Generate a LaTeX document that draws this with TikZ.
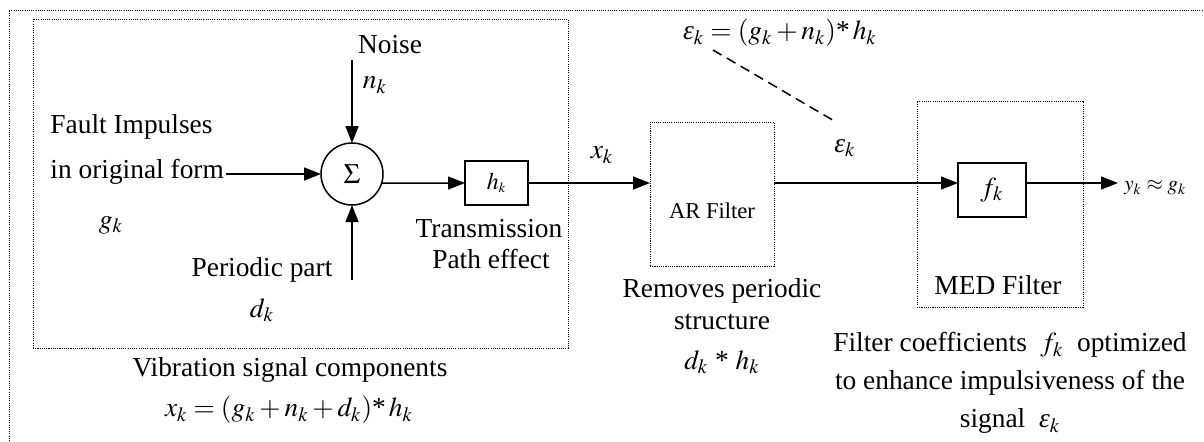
\documentclass[tikz,border=0pt]{standalone}
\usepackage{mathptmx}
\usepackage[no-math]{fontspec}
\setmainfont{Liberation Serif}
\usetikzlibrary{arrows.meta}
\newcommand{\epsk}{\textit{ε}$_k$}
\tikzset{
  txt/.style={font=\fontsize{13.7}{16}\selectfont, inner sep=0pt},
  smalltxt/.style={font=\fontsize{11.3}{13}\selectfont, inner sep=0pt},
  tinytxt/.style={font=\fontsize{10.5}{12}\selectfont, inner sep=0pt},
  dotbox/.style={draw, line width=0.5pt, dash pattern=on 0.55pt off 0.55pt},
  blk/.style={draw, line width=0.75pt, inner sep=0pt, outer sep=0pt},
  arr/.style={-{Triangle[length=8.5pt,width=6.5pt]}, line width=0.75pt},
}
\begin{document}
\begin{tikzpicture}[x=0.5pt,y=-0.5pt]
\useasboundingbox (0,0) rectangle (1204,441);
% outer frame (cropped)
\draw[dotbox] (9,441) -- (9,10) -- (1204,10);
% boxes
\node (box1) [dotbox, minimum width=267.5pt, minimum height=164.5pt, inner sep=0pt, outer sep=0pt] at (300.5,183.5) {};
\node (ar) [dotbox, minimum width=62pt, minimum height=72pt, inner sep=0pt, outer sep=0pt] at (712,194) {};
\node (med) [dotbox, minimum width=83pt, minimum height=103pt, inner sep=0pt, outer sep=0pt] at (1000,204) {};
\node (sum) [blk, circle, minimum size=31pt, font=\fontsize{14}{16}\selectfont] at (352,174) {$\Sigma$};
\node (hk) [blk, minimum width=31.5pt, minimum height=22pt, font=\fontsize{12}{14}\selectfont] at (496.5,183) {$h_{\scriptscriptstyle k}$};
\node (fk) [blk, minimum width=34pt, minimum height=27pt, txt] at (992,190) {$f_k$};
% texts
\node (noise) [txt] at (390,45) {Noise};
\node (nk) [txt] at (375,85) {$n_k$};
\node (fault) [txt, anchor=west] at (50,127) {Fault Impulses};
\node (orig) [txt, anchor=west] at (50,172) {in original form};
\node (gk) [txt] at (111,225) {$g_k$};
\node (periodic) [txt] at (262,270) {Periodic part};
\node (dk) [txt] at (262,310) {$d_k$};
\node (trans) [txt] at (489,229) {Transmission};
\node (path) [txt] at (491,259) {Path effect};
\node (vib) [txt] at (290,370) {Vibration signal components};
\node (xform) [txt] at (289,410) {$x_k=(g_k+n_k+d_k)\mbox{*}\,h_k$};
\node (xk) [txt] at (602,155) {$x_k$};
\node (arlab) [smalltxt] at (712,211) {AR Filter};
\node (rem1) [txt] at (722,291) {Removes periodic};
\node (rem2) [txt] at (722,322) {structure};
\node (rem3) [txt] at (722,362) {$d_k\mbox{ * }h_k$};
\node (eform) [txt] at (780,33) {\epsk${}=(g_k+n_k)\mbox{*}\,h_k$};
\node (ek) [txt] at (845,148) {\epsk};
\node (medlab) [txt] at (998,285) {MED Filter};
\node (fc1) [txt] at (1010,345) {Filter coefficients \ $f_k$ \ optimized};
\node (fc2) [txt] at (1010,383) {to enhance impulsiveness of the};
\node (fc3) [txt] at (1010,421) {signal \ \epsk};
\node (yout) [tinytxt, anchor=west] at (1124,188) {$y_k\approx g_k$};
% connectors
\coordinate (ntop) at (352,60);
\coordinate (pbot) at (352,280);
\coordinate (outend) at (1118,183);
\coordinate (d1) at (713,50);
\coordinate (d2) at (836,122);
\draw[arr] (ntop) -- (sum.north);
\draw[arr] (pbot) -- (sum.south);
\draw[arr] ([xshift=1pt]orig.east |- sum.west) -- (sum.west);
\draw[arr] (sum.-17) -- (hk.west);
\draw[arr] (hk.east) -- (hk.east -| ar.west);
\draw[arr] (hk.east -| ar.east) -- (hk.east -| fk.west);
\draw[arr] (hk.east -| fk.east) -- (outend);
\draw[line width=0.75pt, dash pattern=on 5pt off 3pt] (d1) -- (d2);
\end{tikzpicture}
\end{document}
